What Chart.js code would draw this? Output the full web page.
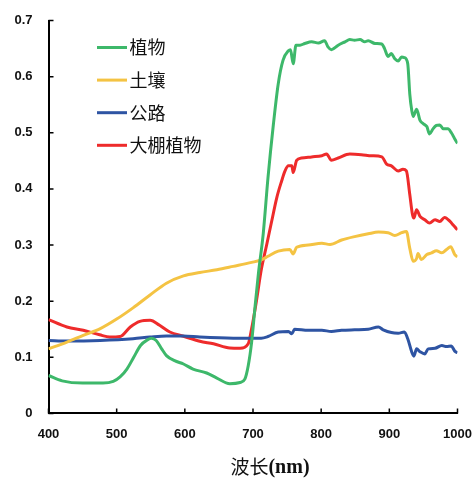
<!DOCTYPE html>
<html>
<head>
<meta charset="utf-8">
<script src="https://cdn.jsdelivr.net/npm/chart.js@4.4.1/dist/chart.umd.min.js"></script>
<style>
html,body{margin:0;padding:0;background:#fff;}
#wrap{width:475px;height:480px;position:relative;}
</style>
</head>
<body>
<div id="wrap"><canvas id="c" width="475" height="480"></canvas></div>
<script>
// ---- data ----
const seriesNames = ['植物', '土壤', '公路', '大棚植物'];
const xTicks = [400, 500, 600, 700, 800, 900, 1000];
const yTicks = [0, 0.1, 0.2, 0.3, 0.4, 0.5, 0.6, 0.7];
const xTitle = ['波长', '(nm)'];

const plantX = [400,420,450,480,495,505,515,525,535,545,551,558,566,573,585,598,612,632,647,666,681,688,693,698,703,708,715,722,730,737,744,752,755,759,763,769,776,786,796,805,810,815,825,835,842,849,857,864,869,879,889,893,898,903,908,913,918,922,927,930,933,935,940,945,950,955,959,964,969,974,979,986,991,996,1000];
const plantY = [0.0675,0.058,0.054,0.054,0.057,0.065,0.079,0.100,0.121,0.131,0.134,0.130,0.115,0.103,0.094,0.088,0.079,0.072,0.063,0.053,0.055,0.061,0.085,0.127,0.19,0.25,0.32,0.42,0.516,0.587,0.629,0.646,0.648,0.623,0.656,0.656,0.659,0.662,0.66,0.664,0.653,0.648,0.656,0.662,0.666,0.665,0.666,0.662,0.664,0.659,0.658,0.65,0.636,0.641,0.632,0.628,0.635,0.634,0.623,0.569,0.539,0.529,0.542,0.522,0.516,0.511,0.498,0.507,0.513,0.514,0.507,0.507,0.5,0.489,0.481];

const soilX = [400,427,451,476,500,524,549,573,598,622,647,671,698,713,722,737,754,759,764,781,801,813,830,849,869,884,898,908,918,925,930,935,940,942,947,955,962,969,977,984,990,996,1000];
const soilY = [0.115,0.127,0.139,0.151,0.168,0.188,0.211,0.232,0.245,0.251,0.256,0.262,0.269,0.274,0.28,0.289,0.292,0.284,0.296,0.3,0.303,0.301,0.309,0.315,0.32,0.323,0.322,0.317,0.322,0.324,0.294,0.271,0.276,0.285,0.274,0.283,0.286,0.29,0.286,0.292,0.297,0.283,0.279];

const roadX = [400,427,476,524,549,573,598,622,671,712,722,737,752,757,761,781,801,815,830,849,869,884,891,903,913,922,927,933,936,940,945,952,957,967,977,984,991,996,1000];
const roadY = [0.13,0.129,0.13,0.133,0.136,0.138,0.138,0.136,0.134,0.134,0.137,0.145,0.146,0.142,0.15,0.148,0.148,0.146,0.148,0.149,0.15,0.154,0.149,0.144,0.143,0.145,0.133,0.109,0.102,0.115,0.11,0.106,0.115,0.116,0.121,0.119,0.12,0.111,0.108];

const greenhouseX = [400,427,451,475,490,505,520,534,549,563,578,598,622,642,666,681,693,698,705,712,720,727,735,742,747,752,757,759,764,771,786,801,808,815,825,842,859,874,889,896,903,913,920,925,930,934,936,940,945,952,959,967,974,981,989,994,1000];
const greenhouseY = [0.167,0.154,0.148,0.140,0.136,0.137,0.154,0.164,0.166,0.157,0.145,0.1375,0.1285,0.124,0.1165,0.116,0.124,0.151,0.2,0.255,0.30,0.34,0.385,0.414,0.432,0.441,0.441,0.429,0.451,0.455,0.457,0.459,0.462,0.451,0.455,0.462,0.461,0.459,0.457,0.444,0.441,0.432,0.435,0.432,0.39,0.354,0.348,0.363,0.351,0.345,0.339,0.345,0.342,0.349,0.342,0.335,0.327];

const colors = ['#3DB86A', '#F4C343', '#2E54A3', '#EE2B2B'];

// ---- build ----
function pts(xs, ys){ return xs.map((x,i)=>({x:x, y:ys[i]})); }
const allX = [plantX, soilX, roadX, greenhouseX];
const allY = [plantY, soilY, roadY, greenhouseY];
const datasets = seriesNames.map((n,i)=>({
  label: n,
  data: pts(allX[i], allY[i]),
  borderColor: colors[i],
  backgroundColor: colors[i],
  borderWidth: 3,
  pointRadius: 0,
  tension: 0.3,
  cubicInterpolationMode: 'monotone',
  fill: false
}));

const tickColor = '#111';
const tickFont = {family: '"Liberation Sans", Arial, sans-serif', size: 13, weight: 'bold'};

const innerTicks = {
  id: 'innerTicks',
  afterDraw(chart){
    const ctx = chart.ctx, xs = chart.scales.x, ys = chart.scales.y, a = chart.chartArea;
    ctx.save();
    ctx.strokeStyle = '#000';
    ctx.lineWidth = 1.5;
    ctx.beginPath();
    xTicks.forEach(v=>{ const p = xs.getPixelForValue(v); ctx.moveTo(p, a.bottom); ctx.lineTo(p, a.bottom-5); });
    yTicks.forEach(v=>{ const p = ys.getPixelForValue(v); ctx.moveTo(a.left, p); ctx.lineTo(a.left+5, p); });
    ctx.stroke();
    ctx.restore();
  }
};

const customLegend = {
  id: 'customLegend',
  afterDraw(chart){
    const ctx = chart.ctx;
    ctx.save();
    ctx.font = '18px "Noto Sans CJK SC", sans-serif';
    ctx.textBaseline = 'middle';
    ctx.fillStyle = '#111';
    chart.data.datasets.forEach((ds,i)=>{
      const y = 47.5 + i*32.6;
      ctx.strokeStyle = ds.borderColor;
      ctx.lineWidth = 3;
      ctx.beginPath(); ctx.moveTo(97, y); ctx.lineTo(127, y); ctx.stroke();
      ctx.fillText(ds.label, 129.5, y);
    });
    ctx.restore();
  }
};

const axisTitle = {
  id: 'axisTitle',
  afterDraw(chart){
    const ctx = chart.ctx;
    ctx.save();
    ctx.fillStyle = '#111';
    ctx.textBaseline = 'middle';
    const f1 = '19px "Noto Sans CJK SC", sans-serif';
    const f2 = 'bold 20px "Liberation Serif", "Times New Roman", serif';
    ctx.font = f1; const w1 = ctx.measureText(xTitle[0]).width;
    ctx.font = f2; const w2 = ctx.measureText(xTitle[1]).width;
    let x = 270 - (w1 + w2)/2;
    const y = 467;
    ctx.font = f1; ctx.fillText(xTitle[0], x, y);
    ctx.font = f2; ctx.fillText(xTitle[1], x + w1, y + 1);
    ctx.restore();
  }
};

new Chart(document.getElementById('c'), {
  type: 'line',
  data: { datasets },
  options: {
    responsive: false,
    animation: false,
    devicePixelRatio: 1,
    layout: { padding: { left: 12, right: 17.5, top: 20.5, bottom: 25 } },
    plugins: { legend: { display: false }, tooltip: { enabled: false } },
    scales: {
      x: {
        type: 'linear', min: 400, max: 1000,
        afterBuildTicks(s){ s.ticks = xTicks.map(v=>({value:v})); },
        afterFit(s){ s.paddingLeft = 0; s.paddingRight = 0; },
        grid: { display: false, drawTicks: false },
        border: { display: true, color: '#000', width: 2 },
        ticks: { color: tickColor, font: tickFont, padding: 13, maxRotation: 0, autoSkip: false, callback: v => String(v) }
      },
      y: {
        type: 'linear', min: 0, max: 0.7,
        afterBuildTicks(s){ s.ticks = yTicks.map(v=>({value:v})); },
        afterFit(s){ s.width = 36.5; s.paddingTop = 0; s.paddingBottom = 0; },
        grid: { display: false, drawTicks: false },
        border: { display: true, color: '#000', width: 2 },
        ticks: { color: tickColor, font: tickFont, padding: 16, callback: v => String(v) }
      }
    }
  },
  plugins: [innerTicks, customLegend, axisTitle]
});
</script>
</body>
</html>
